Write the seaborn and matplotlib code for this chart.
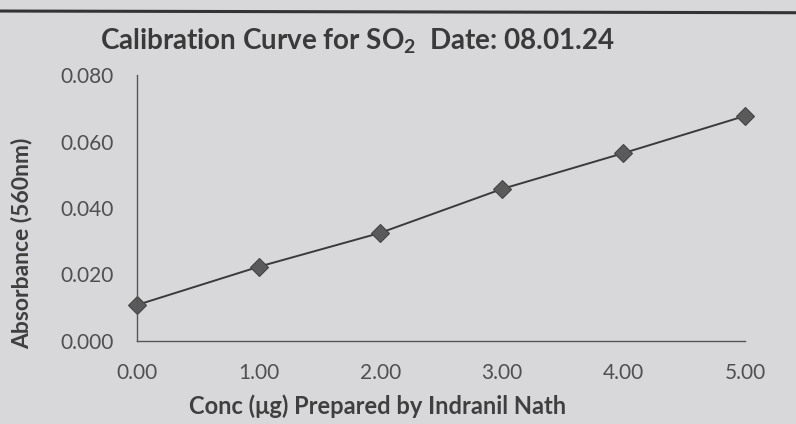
import matplotlib
matplotlib.use("Agg")
import matplotlib.pyplot as plt
import seaborn as sns
import pandas as pd
from matplotlib.lines import Line2D

# data
conc = [0.0, 1.0, 2.0, 3.0, 4.0, 5.0]
absorbance = [0.0108, 0.0223, 0.0325, 0.0457, 0.0565, 0.0677]
x_ticks = [0, 1, 2, 3, 4, 5]
y_ticks = [0.0, 0.02, 0.04, 0.06, 0.08]

df = pd.DataFrame({"conc": conc, "abs": absorbance})

bg = "#d8d8db"

sns.set_style("white")
plt.rcParams["font.family"] = ["Lato", "DejaVu Sans"]
plt.rcParams["mathtext.fontset"] = "custom"
plt.rcParams["mathtext.rm"] = "Lato:bold"

fig = plt.figure(figsize=(7.96, 4.24), dpi=100, facecolor=bg)
ax = fig.add_axes([0.172, 0.196, 0.764, 0.627])
ax.set_facecolor(bg)

sns.lineplot(data=df, x="conc", y="abs", ax=ax, color="#3a3a3a", linewidth=1.4,
             marker="D", markersize=9.5, markerfacecolor="#5a5a5a",
             markeredgecolor="#444444", markeredgewidth=0.8)
for ln in ax.lines:
    ln.set_clip_on(False)

ax.set_xlim(0, 5)
ax.set_ylim(0, 0.08)
ax.set_xticks(x_ticks)
ax.set_xticklabels([f"{v:.2f}" for v in x_ticks])
ax.set_yticks(y_ticks)
ax.set_yticklabels([f"{v:.3f}" for v in y_ticks])
ax.tick_params(axis="both", colors="#555555", labelsize=15, length=5, width=0.9,
               direction="out")
ax.tick_params(axis="x", pad=11)
ax.tick_params(axis="y", pad=12)
for lab in ax.get_xticklabels() + ax.get_yticklabels():
    lab.set_color("#505050")
ax.spines["top"].set_visible(False)
ax.spines["right"].set_visible(False)
for s in ("left", "bottom"):
    ax.spines[s].set_color("#555555")
    ax.spines[s].set_linewidth(1.0)
ax.set_xlabel("")
ax.set_ylabel("")
ax.text(0.396, -0.245, "Conc (μg) Prepared by Indranil Nath", transform=ax.transAxes,
        ha="center", va="center", fontsize=17, fontweight="bold", color="#3f3f3f")
fig.text(0.027, 0.427, "Absorbance (560nm)", rotation=90, ha="center", va="center",
         fontsize=16.5, fontweight="bold", color="#3f3f3f")

fig.text(0.125, 0.902, r"Calibration Curve for SO$_2$  Date: 08.01.24", ha="left",
         va="center", fontsize=20, fontweight="bold", color="#3a3a3a")

# dark table border across the top of the photo
fig.add_artist(Line2D([0, 1], [0.974, 0.970], transform=fig.transFigure,
                      color="#333333", linewidth=2.2))

fig.savefig("out.png", dpi=100, facecolor=bg)
